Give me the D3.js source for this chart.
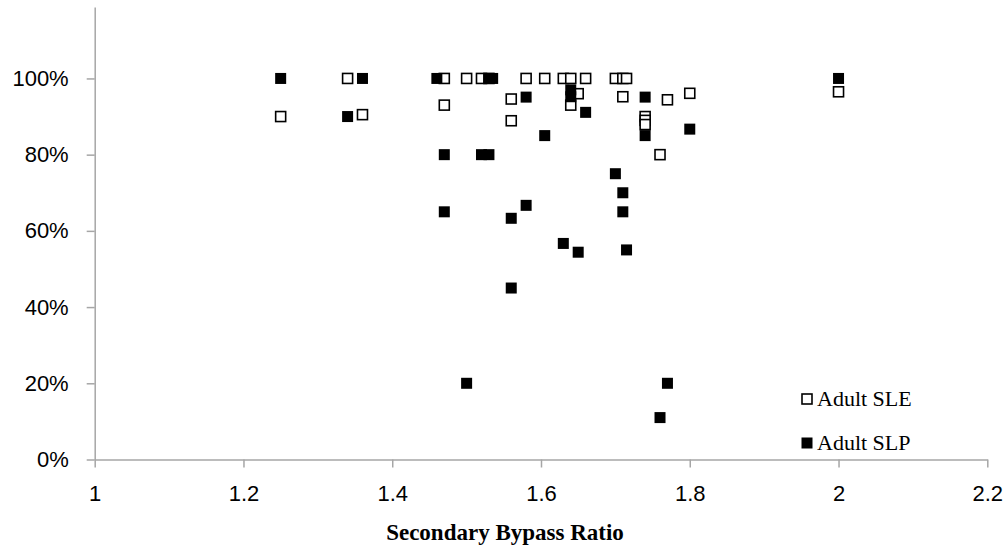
<!DOCTYPE html>
<html>
<head>
<meta charset="utf-8">
<script src="https://cdn.jsdelivr.net/npm/d3@7"></script>
<style>
  body { margin: 0; background: #fff; }
  svg { display: block; }
</style>
</head>
<body>
<div id="chart"></div>
<script>
// Adult SLE (open squares)
const sleX = [1.25, 1.34, 1.36, 1.47, 1.47, 1.50, 1.52, 1.53, 1.56, 1.56, 1.58, 1.605, 1.63, 1.64,
  1.64, 1.65, 1.66, 1.70, 1.71, 1.715, 1.71, 1.74, 1.74, 1.74, 1.76, 1.77, 1.80, 2.0]
const sleY = [0.90, 1.00, 0.905, 1.00, 0.93, 1.00, 1.00, 1.00, 0.946, 0.889, 1.00, 1.00, 1.00, 1.00,
  0.93, 0.96, 1.00, 1.00, 1.00, 1.00, 0.952, 0.90, 0.89, 0.879, 0.80, 0.944, 0.961, 0.965]

// Adult SLP (filled squares)
const slpX = [1.25, 1.34, 1.36, 1.46, 1.53, 1.535, 1.47, 1.52, 1.53, 1.47, 1.58, 1.58, 1.56, 1.56,
  1.50, 1.605, 1.63, 1.64, 1.64, 1.65, 1.66, 1.70, 1.71, 1.71, 1.715, 1.74, 1.74, 1.77, 1.76, 1.80, 2.0]
const slpY = [1.00, 0.90, 1.00, 1.00, 1.00, 1.00, 0.80, 0.80, 0.80, 0.65, 0.951, 0.667, 0.633, 0.45,
  0.20, 0.85, 0.567, 0.97, 0.952, 0.544, 0.911, 0.75, 0.70, 0.65, 0.55, 0.951, 0.85, 0.20, 0.11, 0.867, 1.00]

const xTicks = [1, 1.2, 1.4, 1.6, 1.8, 2, 2.2]
const yTicks = [0, 0.2, 0.4, 0.6, 0.8, 1.0]
const seriesNames = ["Adult SLE", "Adult SLP"]

const width = 1008, height = 550
const svg = d3.select("#chart").append("svg")
    .attr("width", width)
    .attr("height", height)

let x = d3.scaleLinear().domain([1, 2.2]).range([94.7, 987.3])
let y = d3.scaleLinear().domain([0, 1.1875]).range([459.5, 7])

const axisColor = "#a6a6a6"
const tickFont = "'Liberation Sans', Arial, sans-serif"

// x axis
svg.append("g")
    .attr("transform", `translate(0, ${y(0)})`)
    .call(d3.axisBottom(x).tickValues(xTicks).tickSize(8).tickSizeOuter(0).tickPadding(18)
        .tickFormat(d => d3.format("~g")(d)))
    .call(g => g.select(".domain").attr("stroke", axisColor).attr("stroke-width", 1.5))
    .call(g => g.selectAll(".tick line").attr("stroke", axisColor).attr("stroke-width", 1.5))
    .call(g => g.selectAll(".tick text")
        .attr("fill", "#000")
        .style("font-family", tickFont)
        .style("font-size", "22px"))

// y axis
svg.append("g")
    .attr("transform", `translate(${x(1)}, 0)`)
    .call(d3.axisLeft(y).tickValues(yTicks).tickSize(8).tickSizeOuter(0).tickPadding(18)
        .tickFormat(d3.format(".0%")))
    .call(g => g.select(".domain").attr("stroke", axisColor).attr("stroke-width", 1.5))
    .call(g => g.selectAll(".tick line").attr("stroke", axisColor).attr("stroke-width", 1.5))
    .call(g => g.selectAll(".tick text")
        .attr("fill", "#000")
        .style("font-family", tickFont)
        .style("font-size", "22px"))

// axis title
svg.append("text")
    .attr("x", 505)
    .attr("y", 540)
    .attr("text-anchor", "middle")
    .style("font-family", "'Liberation Serif', 'Times New Roman', serif")
    .style("font-weight", "bold")
    .style("font-size", "23px")
    .text("Secondary Bypass Ratio")

const size = 10

// SLE: open squares
svg.append("g").selectAll("rect")
    .data(d3.range(sleX.length))
    .join("rect")
    .attr("x", i => x(sleX[i]) - size / 2)
    .attr("y", i => y(sleY[i]) - size / 2)
    .attr("width", size)
    .attr("height", size)
    .attr("fill", "#fff")
    .attr("stroke", "#000")
    .attr("stroke-width", 1.6)

// SLP: filled squares
svg.append("g").selectAll("rect")
    .data(d3.range(slpX.length))
    .join("rect")
    .attr("x", i => x(slpX[i]) - 5.5)
    .attr("y", i => y(slpY[i]) - 5.5)
    .attr("width", 11)
    .attr("height", 11)
    .attr("fill", "#000")

// legend
const legend = svg.append("g").attr("transform", "translate(807, 0)")
const legendY = [399, 443]
seriesNames.forEach((name, i) => {
    const row = legend.append("g").attr("transform", `translate(0, ${legendY[i]})`)
    if (i === 0) {
        row.append("rect").attr("x", -5).attr("y", -5).attr("width", size).attr("height", size)
            .attr("fill", "#fff").attr("stroke", "#000").attr("stroke-width", 1.6)
    } else {
        row.append("rect").attr("x", -5.5).attr("y", -5.5).attr("width", 11).attr("height", 11)
            .attr("fill", "#000")
    }
    row.append("text")
        .attr("x", 10)
        .attr("y", 7)
        .style("font-family", "'Liberation Serif', 'Times New Roman', serif")
        .style("font-size", "22px")
        .text(name)
})
</script>
</body>
</html>
